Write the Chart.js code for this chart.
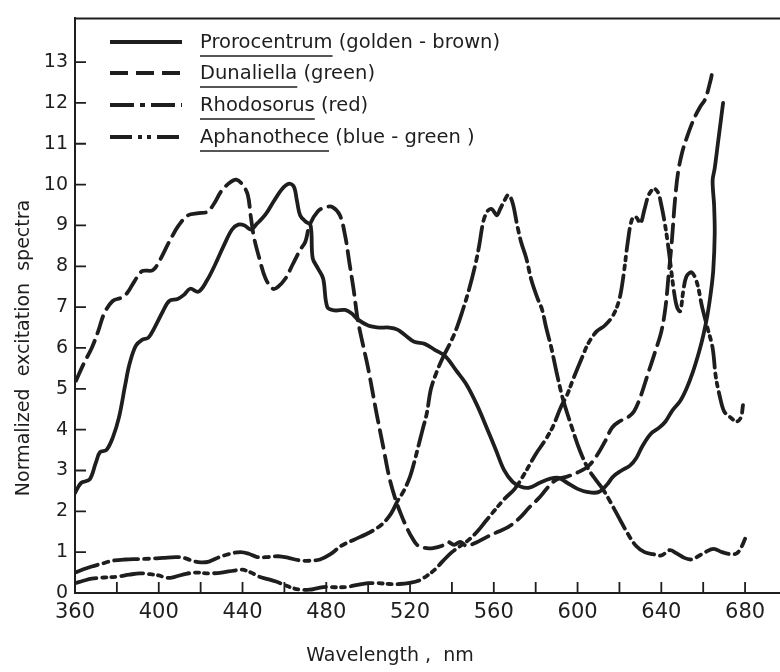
<!DOCTYPE html>
<html>
<head>
<meta charset="utf-8">
<script src="https://cdn.jsdelivr.net/npm/chart.js@4/dist/chart.umd.min.js"></script>
<style>
html,body{margin:0;padding:0;background:#fff;}
canvas{display:block;}
</style>
</head>
<body>
<canvas id="c" width="780" height="672"></canvas>
<script>
// ---- data (wavelength nm, normalized excitation) ----
const seriesNames = ['Prorocentrum', 'Dunaliella', 'Rhodosorus', 'Aphanothece'];
const seriesNotes = [' (golden - brown)', ' (green)', ' (red)', ' (blue - green )'];

const proroNm  = [360,363,367,370,372,375,378,381,384,386,389,392,395,398,402,405,409,412,415,419,423,427,431,435,438,441,444,447,451,455,459,462,464.5,466,467.5,470,472.5,473.5,476,478.5,480.5,484,489,492,495,500,505,510,514,518,522,527,532,537,542,547,552,557,561,565,569,573,577,582,587,591,595,600,605,610,614,617,621,625,628,631,635,639,642,645,649,652,655,658,660,662,663.5,664.8,665.5,665.2,664.5,665.5,667,668.5,669.5];
const proroVal = [2.45,2.7,2.78,3.2,3.45,3.5,3.8,4.3,5.1,5.6,6.05,6.2,6.25,6.5,6.9,7.15,7.2,7.3,7.45,7.38,7.65,8.05,8.5,8.9,9.02,9.0,8.9,9.05,9.27,9.6,9.9,10.02,9.95,9.6,9.25,9.1,9.0,8.2,7.95,7.7,7.0,6.92,6.93,6.85,6.7,6.55,6.5,6.5,6.45,6.3,6.15,6.1,5.95,5.79,5.45,5.1,4.6,4.0,3.5,3.0,2.72,2.6,2.58,2.7,2.8,2.82,2.7,2.55,2.47,2.47,2.65,2.85,3.0,3.12,3.3,3.6,3.9,4.05,4.2,4.45,4.7,5.0,5.4,5.9,6.3,6.8,7.3,7.9,8.8,9.5,10.1,10.4,11.0,11.6,12.0];

const dunaNm  = [360.5,364,368,371,374,378,382,385,388,392,397,400,405,409.5,414,419,423,426,430,434,437,440,442.5,444,445.5,448,451,454.5,457,460.5,464,467.5,470,472,476,480,483,486.5,489,491,493,495,497,500,504,507.5,510,513,515.5,518,521,524,528,531,535,538,541,544,547,550,553,557,562,567,572,577,582,586,590,595,600,605,609,613,616.5,620,624,627,630,633.5,637,640,642,643.5,645,646.5,648,650,652.5,655.5,658.5,661,663.5,664.5];
const dunaVal = [5.2,5.6,6.0,6.4,6.85,7.15,7.23,7.35,7.6,7.88,7.9,8.1,8.6,9.0,9.25,9.3,9.33,9.5,9.85,10.05,10.12,10.0,9.75,9.2,8.7,8.2,7.7,7.45,7.5,7.7,8.05,8.4,8.6,9.0,9.35,9.45,9.45,9.25,8.75,8.1,7.45,6.7,6.2,5.5,4.4,3.5,2.85,2.3,1.95,1.65,1.35,1.15,1.1,1.1,1.15,1.25,1.18,1.25,1.15,1.2,1.27,1.38,1.5,1.62,1.82,2.1,2.35,2.6,2.78,2.85,2.95,3.1,3.35,3.7,4.05,4.2,4.3,4.45,4.8,5.35,5.9,6.4,7.0,7.8,8.6,9.6,10.3,10.8,11.2,11.6,11.9,12.1,12.55,12.8];

const rhodoNm  = [360,364,368,373,378,384,390,396,402,408,412,416,420,424,429,434,439,443,447,452,457,462,467,472,477,482,487,493,499,503,507,511,514,517,520,522,524,526,528,530,533,536,539,542,545,548,551,553,555,557,559,561.5,563,565,567,569,571,573,575.5,578,581,583,585,587.5,590,593,597,601,605,609,612,616,620,624,628,632,636,640,644,647,651,654,657,661,665,669,673,676,678,680];
const rhodoVal = [0.5,0.58,0.65,0.72,0.79,0.82,0.83,0.84,0.86,0.88,0.86,0.79,0.75,0.77,0.88,0.96,1.0,0.96,0.88,0.88,0.9,0.86,0.8,0.79,0.82,0.95,1.15,1.3,1.44,1.55,1.7,1.95,2.25,2.5,2.85,3.2,3.6,4.0,4.4,5.0,5.45,5.8,6.1,6.45,6.9,7.4,8.0,8.5,9.1,9.35,9.4,9.25,9.4,9.6,9.75,9.55,9.05,8.6,8.2,7.65,7.2,6.95,6.5,6.0,5.4,4.75,4.1,3.5,3.05,2.75,2.55,2.2,1.82,1.45,1.15,1.0,0.95,0.92,1.05,0.98,0.86,0.82,0.88,1.0,1.08,1.0,0.95,0.97,1.1,1.33];

const aphanNm  = [360,364,368,374,380,386,391,396,400,404,408,413,418,424,430,436,440,444,448,452,456,460,464,468,472,476,480,485,490,495,500,505,510,515,520,524,528,532,536,540,544,548,552,556,560,565,570,575,580,584,588,592,595,598,602,605,609,613,617,620,622,624,626,628,630,632,634,636.5,638.5,640,641.5,643,644.5,646,647.5,649,650.5,652,654.5,657,659.5,662,664.5,666,668,670,673,676,678,679];
const aphanVal = [0.24,0.3,0.35,0.38,0.4,0.45,0.48,0.46,0.43,0.37,0.4,0.47,0.5,0.48,0.5,0.55,0.57,0.5,0.4,0.34,0.28,0.2,0.12,0.08,0.08,0.12,0.15,0.14,0.15,0.2,0.24,0.24,0.22,0.22,0.25,0.3,0.42,0.58,0.8,1.0,1.15,1.3,1.5,1.75,2.0,2.3,2.55,2.95,3.4,3.7,4.05,4.55,4.85,5.25,5.75,6.1,6.4,6.55,6.8,7.2,7.8,8.6,9.15,9.2,9.05,9.4,9.75,9.9,9.8,9.5,9.1,8.6,8.0,7.4,7.0,6.9,7.4,7.75,7.85,7.6,7.0,6.5,6.0,5.3,4.8,4.45,4.3,4.2,4.3,4.6];

const xTickValues = [360,400,440,480,520,560,600,640,680];
const yTickValues = [0,1,2,3,4,5,6,7,8,9,10,11,12,13];

// ---- styles ----
const INK = '#1e1e1e';
const FONT = "'DejaVu Sans', sans-serif";
const dashes = [[], [18, 8], [24, 6, 5, 6], [22, 6, 4, 5, 4, 6]];
const nmArrays = [proroNm, dunaNm, rhodoNm, aphanNm];
const valArrays = [proroVal, dunaVal, rhodoVal, aphanVal];

const datasets = seriesNames.map((name, i) => ({
  label: name + seriesNotes[i],
  data: nmArrays[i].map((x, k) => ({x: x, y: valArrays[i][k]})),
  borderColor: INK,
  borderWidth: 3.8,
  borderDash: dashes[i],
  borderCapStyle: 'round',
  borderJoinStyle: 'round',
  pointRadius: 0,
  tension: 0.35,
  fill: false
}));

const decor = {
  id: 'decor',
  afterDraw(chart) {
    const ctx = chart.ctx;
    const a = chart.chartArea;
    const xs = chart.scales.x, ys = chart.scales.y;
    ctx.save();
    ctx.strokeStyle = INK;
    ctx.lineWidth = 2;
    // top frame line
    ctx.beginPath();
    ctx.moveTo(a.left - 1, a.top);
    ctx.lineTo(780, a.top);
    ctx.stroke();
    // inward tick marks
    ctx.lineWidth = 1.8;
    ctx.beginPath();
    for (let v = 380; v <= 680; v += 20) {
      const px = xs.getPixelForValue(v);
      ctx.moveTo(px, a.bottom);
      ctx.lineTo(px, a.bottom - 11);
    }
    for (let v = 1; v <= 13; v++) {
      const py = ys.getPixelForValue(v);
      ctx.moveTo(a.left, py);
      ctx.lineTo(a.left + 11, py);
    }
    ctx.stroke();

    // axis titles
    ctx.fillStyle = INK;
    ctx.font = "19px " + FONT;
    ctx.textAlign = 'center';
    ctx.textBaseline = 'middle';
    ctx.fillText('Wavelength ,  nm', 390, 656);
    ctx.save();
    ctx.translate(24, 348);
    ctx.rotate(-Math.PI / 2);
    ctx.fillText('Normalized  excitation  spectra', 0, 0);
    ctx.restore();

    // legend
    const rows = [42, 73, 105, 137];
    ctx.font = "19.5px " + FONT;
    ctx.textAlign = 'left';
    chart.data.datasets.forEach((ds, i) => {
      const y = rows[i];
      ctx.lineWidth = 3.8;
      ctx.lineCap = 'butt';
      ctx.setLineDash(ds.borderDash);
      ctx.beginPath();
      ctx.moveTo(110, y);
      ctx.lineTo(182, y);
      ctx.stroke();
      ctx.setLineDash([]);
      const name = seriesNames[i];
      ctx.fillText(name + seriesNotes[i], 200, y + 1);
      const w = ctx.measureText(name).width;
      ctx.lineWidth = 1.6;
      ctx.beginPath();
      ctx.moveTo(200, y + 14);
      ctx.lineTo(200 + w, y + 14);
      ctx.stroke();
    });
    ctx.restore();
  }
};

new Chart(document.getElementById('c'), {
  type: 'line',
  data: { datasets: datasets },
  options: {
    responsive: false,
    animation: false,
    devicePixelRatio: 1,
    layout: { padding: { left: 0, top: 7, right: 1, bottom: 0 } },
    plugins: { legend: { display: false }, tooltip: { enabled: false } },
    scales: {
      x: {
        type: 'linear',
        min: 360,
        max: 696.2,
        afterBuildTicks(scale) { scale.ticks = xTickValues.map(v => ({value: v})); },
        afterFit(scale) { scale.height = 79; },
        grid: { display: false, drawTicks: false },
        border: { display: true, color: INK, width: 2 },
        ticks: { color: INK, font: { family: FONT, size: 21 }, padding: 7, maxRotation: 0, autoSkip: false },
        title: { display: false }
      },
      y: {
        type: 'linear',
        min: 0,
        max: 14.07,
        afterBuildTicks(scale) { scale.ticks = yTickValues.map(v => ({value: v})); },
        afterFit(scale) { scale.width = 75; },
        grid: { display: false, drawTicks: false },
        border: { display: true, color: INK, width: 2 },
        ticks: { color: INK, font: { family: FONT, size: 19 }, padding: 7, autoSkip: false },
        title: { display: false }
      }
    }
  },
  plugins: [decor]
});
</script>
</body>
</html>
